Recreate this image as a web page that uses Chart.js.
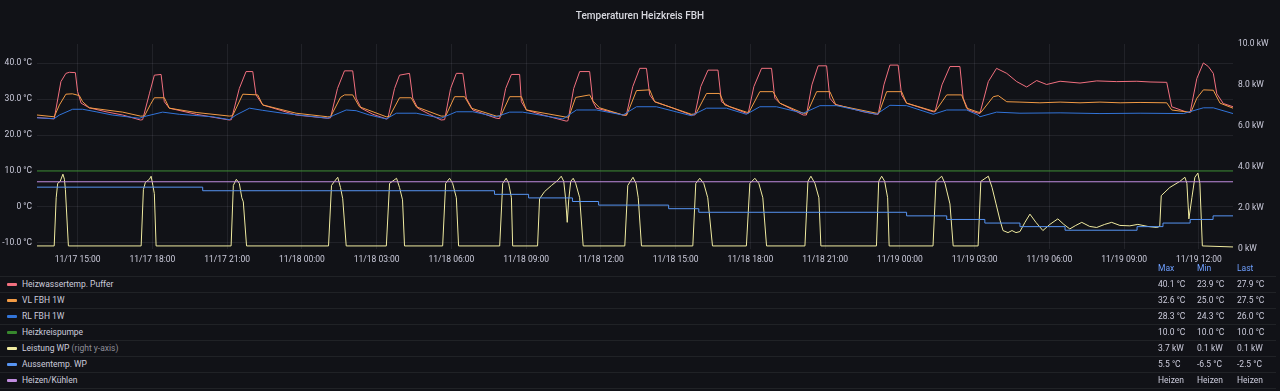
<!DOCTYPE html>
<html>
<head>
<meta charset="utf-8">
<script src="https://cdn.jsdelivr.net/npm/chart.js@4/dist/chart.umd.min.js"></script>
<style>
html,body{margin:0;padding:0;background:#111217;width:1280px;height:391px;overflow:hidden;font-family:Roboto,"Noto Sans",sans-serif;}
#wrap{position:relative;width:1280px;height:391px;}
#c{position:absolute;left:0;top:0;}
.hdr{position:absolute;top:262px;height:13px;line-height:13px;font-size:8.5px;color:#6e9fff;}
.row{position:absolute;left:0;width:1276px;height:16px;box-sizing:border-box;border-top:1px solid #202226;font-size:8.5px;color:#ccccdc;line-height:15px;}
.row.last{border-bottom:1px solid #202226;height:17px;}
.sw{position:absolute;left:7px;top:6px;width:10px;height:3px;border-radius:1px;}
.nm{position:absolute;left:22px;top:0;white-space:nowrap;}
.nm span{color:#8e8e98;}
.v{position:absolute;top:0;white-space:nowrap;}
</style>
</head>
<body>
<div id="wrap">
<canvas id="c" width="1280" height="266"></canvas>
<div id="legend"></div>
</div>
<script>
// ---- time axis (hours since 11/17 00:00) ----
const xMin = 13.37, xMax = 61.37;
const tickHours = [15,18,21,24,27,30,33,36,39,42,45,48,51,54,57,60];
const tickLabels = ['11/17 15:00','11/17 18:00','11/17 21:00','11/18 00:00','11/18 03:00','11/18 06:00','11/18 09:00','11/18 12:00','11/18 15:00','11/18 18:00','11/18 21:00','11/19 00:00','11/19 03:00','11/19 06:00','11/19 09:00','11/19 12:00'];
const leftTicks = [-10,0,10,20,30,40];
const leftTickLabels = ['-10.0 °C','0 °C','10.0 °C','20.0 °C','30.0 °C','40.0 °C'];
const rightTicks = [0,2,4,6,8,10];
const rightTickLabels = ['0 kW','2.0 kW','4.0 kW','6.0 kW','8.0 kW','10.0 kW'];

// ---- Heizwassertemp. Puffer ----
const pufferT = [13.37,14.06,14.33,14.53,14.67,14.91,15.00,15.14,15.47,16.14,16.81,17.52,
17.61,17.88,18.08,18.35,18.48,18.68,19.76,21.09,
21.17,21.49,21.76,22.03,22.16,22.43,23.77,25.04,
25.15,25.43,25.71,26.04,26.18,26.38,26.85,27.39,
27.45,27.72,27.92,28.32,28.45,28.65,29.12,29.59,
29.73,29.97,30.20,30.46,30.60,30.86,31.80,
31.94,32.18,32.41,32.74,32.81,33.01,33.67,34.61,
34.68,34.91,35.15,35.55,35.68,35.82,36.89,
37.02,37.28,37.56,37.83,37.96,38.16,38.90,39.63,
39.77,40.01,40.30,40.70,40.84,41.17,41.84,
41.91,42.14,42.45,42.85,42.98,43.18,44.12,
44.25,44.47,44.72,45.06,45.19,45.39,46.53,47.06,
47.13,47.36,47.60,47.93,48.07,48.27,49.34,
49.41,49.69,50.01,50.41,50.54,50.74,51.14,
51.21,51.55,51.88,52.29,52.69,53.09,53.49,53.89,54.43,55.23,55.90,56.70,57.51,58.04,58.71,58.91,59.51,
59.65,59.92,60.18,60.38,60.58,60.72,60.98,61.37];
const pufferV = [24.9,24.5,34.9,37.2,37.5,37.4,32.1,28.9,27.6,26.5,25.6,24.2,
24.3,31.5,36.7,36.9,29.3,27.5,25.8,24.2,
24.3,33.0,37.7,37.7,31.2,28.4,25.6,24.7,
24.8,33.0,37.9,37.9,30.3,27.5,25.8,24.5,
24.6,33.0,36.7,37.2,30.3,27.5,25.8,24.2,
24.3,33.0,37.2,37.2,30.3,27.0,24.7,
24.6,33.0,36.9,36.9,29.3,27.0,25.6,23.9,
24.0,33.0,37.7,37.7,29.3,27.5,25.6,
25.5,33.5,38.6,38.6,31.2,29.3,27.5,25.6,
25.6,33.5,38.1,38.1,29.3,27.9,26.1,
26.0,33.5,38.6,38.6,30.3,28.9,25.6,
25.6,34.0,39.3,39.3,30.3,28.6,26.5,25.8,
25.8,34.0,39.5,39.5,31.2,28.9,26.5,
26.5,34.0,39.1,39.1,30.3,27.0,26.1,
26.0,34.9,38.6,37.2,34.9,33.4,35.2,34.1,35.0,34.5,35.1,34.9,35.0,34.8,34.7,27.9,26.4,
26.3,35.8,40.1,39.1,37.2,31.5,28.8,27.9];

// ---- VL FBH 1W ----
const vlT = [13.37,14.06,14.27,14.53,14.79,15.07,15.20,15.47,16.81,17.52,
17.68,17.92,18.08,18.48,18.68,19.76,21.09,
21.22,21.63,22.23,22.43,23.77,25.04,
25.15,25.55,25.71,26.04,26.31,27.39,
27.52,27.92,28.39,28.59,29.59,
29.77,30.13,30.53,30.80,31.80,
31.98,32.34,32.81,33.01,34.61,
34.71,34.99,35.55,35.68,35.95,36.89,
37.04,37.43,37.96,38.16,39.63,
39.81,40.24,40.77,40.97,41.84,
41.94,42.38,42.91,43.18,44.12,
44.27,44.66,45.19,45.43,47.06,
47.16,47.47,48.07,48.27,49.34,
49.43,49.88,50.48,50.68,51.14,
51.25,51.75,51.95,52.29,52.82,53.62,54.43,55.23,56.03,56.84,57.64,58.71,58.91,59.58,
59.69,59.92,60.18,60.58,60.85,61.37];
const vlV = [25.6,25.1,28.4,31.4,31.5,31.0,29.3,27.6,26.4,25.3,
25.3,28.5,30.4,30.4,27.5,26.3,25.3,
25.4,31.4,31.2,28.4,26.1,25.1,
25.1,30.5,31.2,31.2,27.9,25.1,
25.2,30.4,30.4,27.9,25.3,
25.3,30.7,30.7,27.5,25.3,
25.3,30.7,30.7,27.0,25.0,
25.0,30.5,31.2,29.5,27.6,25.6,
25.6,32.4,32.6,29.3,25.8,
25.9,31.6,31.6,28.4,26.4,
26.3,32.1,32.1,28.9,26.1,
26.1,32.1,32.1,28.4,26.1,
26.1,32.1,32.1,28.9,26.7,
26.7,31.2,31.2,27.5,26.4,
26.3,30.7,31.0,29.3,29.2,29.0,29.2,29.0,29.2,29.0,29.1,29.0,27.0,26.4,
26.5,30.3,32.6,32.5,28.9,27.5];

// ---- RL FBH 1W ----
const rlT = [13.37,14.06,14.27,14.80,15.20,15.74,16.39,17.48,
17.75,18.41,19.08,20.42,21.09,
21.36,21.90,22.43,23.23,25.04,
25.27,25.78,26.18,26.71,27.39,
27.79,28.59,29.59,
30.20,30.86,31.80,
32.34,32.86,34.48,
35.02,35.82,36.89,
37.43,38.23,38.90,39.63,
40.24,41.04,41.84,
42.38,43.05,44.12,
44.79,45.46,47.06,
47.60,48.27,49.34,
49.88,50.68,51.14,
51.21,51.88,52.82,54.43,56.03,57.64,59.38,
60.18,60.58,61.37];
const rlV = [24.8,24.6,25.6,27.2,27.2,26.5,25.6,24.7,
25.3,26.4,25.8,25.1,24.3,
25.6,27.5,26.9,26.1,24.7,
25.5,27.0,26.8,25.6,24.5,
26.1,26.1,24.7,
26.5,26.5,25.1,
26.4,26.4,24.5,
27.0,27.0,25.6,
27.9,27.9,26.7,25.4,
27.5,27.5,25.8,
27.9,27.9,26.1,
28.2,28.2,25.8,
28.3,28.2,25.8,
27.0,27.0,25.6,
25.1,26.4,26.1,26.2,26.0,26.1,26.0,
27.6,27.6,26.0];

// ---- Heizkreispumpe ----
const pumpeT = [13.37,61.37];
const pumpeV = [10.0,10.0];

// ---- Leistung WP (kW, right axis) ----
const leistungT = [13.37,14.06,14.14,14.20,14.30,14.41,14.47,14.51,14.63,
17.55,17.64,17.72,17.88,17.95,18.02,18.08,18.15,
21.16,21.25,21.37,21.49,21.59,21.65,21.78,
25.07,25.19,25.31,25.44,25.55,25.64,25.78,
27.39,27.52,27.80,27.92,28.04,28.12,
29.65,29.77,29.93,30.05,30.20,30.29,
31.94,32.06,32.20,32.30,32.41,32.46,
33.46,33.54,33.74,34.02,34.27,34.41,34.51,34.59,34.65,34.71,34.79,34.89,34.99,35.15,35.29,
36.96,37.08,37.29,37.41,37.50,37.63,
39.69,39.81,39.97,40.13,40.29,40.48,
41.84,41.98,42.18,42.34,42.50,42.65,
44.19,44.31,44.43,44.59,44.75,44.83,
47.06,47.15,47.27,47.39,47.51,47.57,
49.33,49.45,49.68,49.81,50.01,50.14,
51.14,51.25,51.55,51.70,51.86,52.02,52.14,52.34,52.50,52.66,52.82,53.02,53.22,53.46,53.74,54.02,54.34,54.58,54.82,55.06,55.30,55.62,55.90,56.22,56.50,56.83,57.23,57.55,57.95,58.31,58.43,58.49,58.83,59.24,59.44,59.52,59.60,59.72,59.84,59.96,60.04,60.14,61.37];
const leistungV = [0.15,0.15,2.5,3.2,3.3,3.65,3.4,2.9,0.15,
0.15,2.9,3.25,3.4,3.55,3.1,2.7,0.15,
0.15,3.1,3.4,3.2,2.5,2.3,0.15,
0.15,3.1,3.3,3.5,3.0,2.45,0.15,
0.15,3.2,3.45,3.0,2.4,0.15,
0.15,3.2,3.45,3.2,2.5,0.15,
0.15,3.2,3.45,3.2,2.5,0.15,
0.15,2.45,2.8,3.1,3.35,3.55,3.3,2.4,1.3,2.4,3.3,3.45,3.2,2.5,0.15,
0.15,3.1,3.5,3.2,2.5,0.15,
0.15,3.2,3.45,3.2,2.5,0.15,
0.15,3.2,3.45,3.2,2.5,0.15,
0.15,3.3,3.55,3.2,2.5,0.15,
0.15,3.3,3.55,3.3,2.5,0.15,
0.15,3.3,3.55,3.2,2.2,0.15,
0.15,3.3,3.55,3.0,2.2,1.4,0.9,0.8,0.9,0.8,0.85,1.3,1.7,1.3,0.9,1.2,1.47,1.2,0.98,1.15,1.3,1.1,1.05,1.2,1.3,1.15,1.13,1.2,1.1,1.05,1.1,2.6,3.0,3.3,3.5,3.2,1.47,2.5,3.5,3.7,3.2,0.15,0.1];

// ---- Aussentemp. WP (stepped) ----
const aussenT = [13.37,20.02,31.73,33.10,34.86,35.91,38.72,39.93,48.27,49.88,51.41,52.82,54.63,57.52,58.56,59.65,60.57,61.37];
const aussenV = [5.5,4.5,3.5,2.5,1.5,0.5,-0.5,-1.5,-2.5,-3.5,-4.5,-5.5,-6.5,-5.5,-4.5,-3.5,-2.5,-2.5];

// ---- Heizen/Kühlen ----
const modusT = [13.37,61.37];
const modusV = [7.0,7.0];

// ---- legend table ----
const seriesNames = ['Heizwassertemp. Puffer','VL FBH 1W','RL FBH 1W','Heizkreispumpe','Leistung WP','Aussentemp. WP','Heizen/Kühlen'];
const seriesColors = ['#F2707F','#F29B45','#3274D9','#37872D','#F0EBA0','#5794F2','#C18DE0'];
const legendMax = ['40.1 °C','32.6 °C','28.3 °C','10.0 °C','3.7 kW','5.5 °C','Heizen'];
const legendMin = ['23.9 °C','25.0 °C','24.3 °C','10.0 °C','0.1 kW','-6.5 °C','Heizen'];
const legendLast = ['27.9 °C','27.5 °C','26.0 °C','10.0 °C','0.1 kW','-2.5 °C','Heizen'];

function pts(t, v){ return t.map((x,i)=>({x:x, y:v[i]})); }

const txt = '#ccccdc';
const gridCol = 'rgba(204,204,220,0.09)';
const tickFont = {family:'Roboto', size:8.5};

const seriesData = [
  [pufferT,pufferV,'y',false],
  [vlT,vlV,'y',false],
  [rlT,rlV,'y',false],
  [pumpeT,pumpeV,'y',false],
  [leistungT,leistungV,'y1',false],
  [aussenT,aussenV,'y',true],
  [modusT,modusV,'y',false]
];

const datasets = seriesData.map((s,i)=>({
  label: seriesNames[i],
  data: pts(s[0], s[1]),
  yAxisID: s[2],
  stepped: s[3],
  borderColor: seriesColors[i],
  backgroundColor: seriesColors[i],
  borderWidth: 1,
  pointRadius: 0,
  tension: 0,
  fill: false,
  order: -i
}));

new Chart(document.getElementById('c'), {
  type: 'line',
  data: { datasets },
  options: {
    responsive: false,
    animation: false,
    devicePixelRatio: 1,
    layout: { padding: 0 },
    plugins: {
      legend: { display: false },
      tooltip: { enabled: false },
      title: {
        display: true,
        text: 'Temperaturen Heizkreis FBH',
        color: '#d8d9e0',
        font: { family: 'Roboto', size: 10, weight: '500' },
        padding: { top: 10, bottom: 22 }
      }
    },
    scales: {
      x: {
        type: 'linear', min: xMin, max: xMax,
        afterBuildTicks: s => { s.ticks = tickHours.map(v => ({value: v})); },
        afterFit: s => { s.height = 17; },
        ticks: { autoSkip: false, maxRotation: 0, color: txt, font: tickFont, padding: 6,
                 callback: (v, i) => tickLabels[i] },
        grid: { color: gridCol, drawTicks: false },
        border: { display: false }
      },
      y: {
        position: 'left', min: -11.73, max: 45.38,
        afterBuildTicks: s => { s.ticks = leftTicks.map(v => ({value: v})); },
        afterFit: s => { s.width = 37; },
        ticks: { autoSkip: false, color: txt, font: tickFont, padding: 5,
                 callback: (v, i) => leftTickLabels[i] },
        grid: { color: gridCol, drawTicks: false },
        border: { display: false }
      },
      y1: {
        position: 'right', min: 0, max: 10,
        afterBuildTicks: s => { s.ticks = rightTicks.map(v => ({value: v})); },
        afterFit: s => { s.width = 47; },
        ticks: { autoSkip: false, color: txt, font: tickFont, padding: 5,
                 callback: (v, i) => rightTickLabels[i] },
        grid: { display: false, drawTicks: false },
        border: { display: false }
      }
    }
  }
});

// legend table (HTML)
const lg = document.getElementById('legend');
const colX = [1158, 1197, 1237];
['Max','Min','Last'].forEach((h,i)=>{
  const d = document.createElement('div');
  d.className = 'hdr'; d.style.left = colX[i] + 'px'; d.textContent = h; lg.appendChild(d);
});
seriesNames.forEach((n,i)=>{
  const r = document.createElement('div');
  r.className = 'row' + (i === seriesNames.length - 1 ? ' last' : '');
  r.style.top = (276 + 16*i) + 'px';
  const sw = document.createElement('div'); sw.className = 'sw'; sw.style.background = seriesColors[i]; r.appendChild(sw);
  const nm = document.createElement('div'); nm.className = 'nm'; nm.textContent = n;
  if (n === 'Leistung WP') { const sp = document.createElement('span'); sp.textContent = ' (right y-axis)'; nm.appendChild(sp); }
  r.appendChild(nm);
  [legendMax[i], legendMin[i], legendLast[i]].forEach((val,k)=>{
    const v = document.createElement('div'); v.className = 'v'; v.style.left = colX[k] + 'px'; v.textContent = val; r.appendChild(v);
  });
  lg.appendChild(r);
});
</script>
</body>
</html>
